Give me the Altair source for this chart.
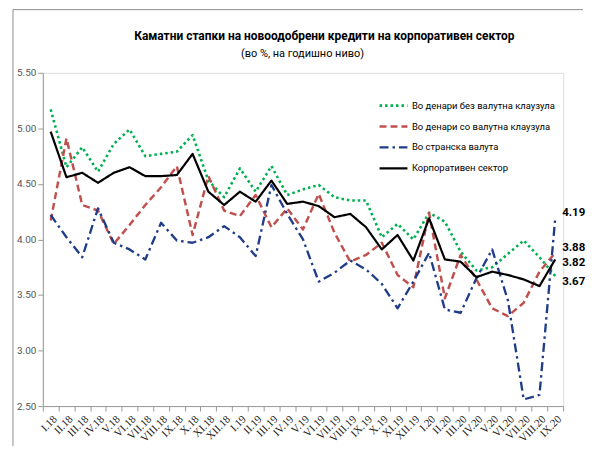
import altair as alt
import pandas as pd

months = ["I.18","II.18","III.18","IV.18","V.18","VI.18","VII.18","VIII.18","IX.18","X.18","XI.18","XII.18",
          "I.19","II.19","III.19","IV.19","V.19","VI.19","VII.19","VIII.19","IX.19","X.19","XI.19","XII.19",
          "I.20","II.20","III.20","IV.20","V.20","VI.20","VII.20","VIII.20","IX.20"]

series_names = ["Во денари без валутна клаузула", "Во денари со валутна клаузула",
                "Во странска валута", "Корпоративен сектор"]

green = [5.17,4.65,4.83,4.61,4.86,4.99,4.75,4.77,4.79,4.94,4.53,4.38,4.64,4.43,4.66,4.40,4.45,4.49,4.38,4.35,4.35,4.02,4.14,4.00,4.24,4.16,3.89,3.72,3.75,3.87,3.99,3.84,3.67]
red = [4.17,4.91,4.31,4.26,3.96,4.13,4.31,4.47,4.66,4.04,4.57,4.26,4.21,4.40,4.11,4.28,4.09,4.41,4.06,3.80,3.86,3.97,3.68,3.57,4.24,3.47,3.86,3.64,3.38,3.31,3.43,3.71,3.88]
blue = [4.22,4.02,3.84,4.28,3.97,3.91,3.82,4.15,3.99,3.97,4.02,4.12,4.02,3.85,4.49,4.23,4.00,3.62,3.70,3.81,3.73,3.60,3.38,3.62,3.88,3.37,3.34,3.65,3.91,3.45,2.56,2.60,4.19]
black = [4.97,4.56,4.60,4.51,4.60,4.65,4.57,4.57,4.58,4.77,4.43,4.31,4.43,4.34,4.53,4.32,4.34,4.30,4.20,4.23,4.11,3.91,4.04,3.81,4.19,3.82,3.80,3.66,3.71,3.68,3.64,3.58,3.82]

title_text = "Каматни стапки на новоодобрени кредити на корпоративен сектор"
subtitle_text = "(во %, на годишно ниво)"

colors = ["#00B050", "#C0504D", "#1F3C88", "#000000"]
dashes = [[2.5, 3], [7, 4], [9, 4, 2.5, 4], [1, 0]]
widths = [2.6, 2.2, 2.6, 3.6]

# end labels: value shown, vertical nudge
end_values = [4.19, 3.88, 3.82, 3.67]
end_dy = [-5, -5, 4, 6]

rows = []
for name, vals in zip(series_names, [green, red, blue, black]):
    for m, v in zip(months, vals):
        rows.append({"month": m, "value": v, "series": name})
df = pd.DataFrame(rows)

lab = pd.DataFrame({"month": [months[-1]] * 4, "value": end_values,
                    "text": [f"{v:.2f}" for v in end_values], "dy": end_dy})

font = "Roboto"

x_enc = alt.X("month:N", sort=months, title=None,
              scale=alt.Scale(paddingInner=0, paddingOuter=0),
              axis=alt.Axis(labelAngle=-45, labelFont="Liberation Serif", labelFontSize=11,
                            labelColor="#222", domainColor="#999", tickColor="#999",
                            tickBand="extent", tickSize=5, labelPadding=2, grid=False))
y_enc = alt.Y("value:Q", title=None,
              scale=alt.Scale(domain=[2.5, 5.5], nice=False, zero=False),
              axis=alt.Axis(values=[2.5, 3.0, 3.5, 4.0, 4.5, 5.0, 5.5], format=".2f",
                            labelFont=font, labelFontSize=10, labelColor="#555",
                            domainColor="#999", tickColor="#999", tickSize=5, grid=False))

leg = alt.Legend(title=None, orient="none", legendX=337, legendY=26,
                 symbolType="stroke", symbolSize=784, clipHeight=14,
                 labelFont=font, labelFontSize=9.5, labelColor="#000", labelLimit=0,
                 rowPadding=7, labelOffset=3)

color_enc = alt.Color("series:N", sort=series_names,
                      scale=alt.Scale(domain=series_names, range=colors), legend=leg)
dash_enc = alt.StrokeDash("series:N", sort=series_names,
                          scale=alt.Scale(domain=series_names, range=dashes), legend=leg)
width_enc = alt.StrokeWidth("series:N", sort=series_names,
                            scale=alt.Scale(domain=series_names, range=widths), legend=leg)

layers = []
for name in series_names:
    layers.append(
        alt.Chart(df).transform_filter(alt.datum.series == name)
        .mark_line(strokeJoin="round")
        .encode(x=x_enc, y=y_enc, color=color_enc, strokeDash=dash_enc, strokeWidth=width_enc)
    )

labels = []
for i in range(len(end_values)):
    labels.append(
        alt.Chart(lab.iloc[[i]]).mark_text(align="left", baseline="middle", dx=7, dy=end_dy[i],
                                           font=font, fontSize=11.5, fontWeight="bold", color="#000")
        .encode(x=alt.X("month:N", sort=months), y=alt.Y("value:Q"), text="text:N")
    )

one = pd.DataFrame({"a": [0]})

title_mark = alt.Chart(one).mark_text(
    font=font, fontSize=12, fontWeight="bold", color="#000", baseline="middle", text=title_text
).encode(x=alt.value(283), y=alt.value(-37))

subtitle_mark = alt.Chart(one).mark_text(
    font=font, fontSize=11, color="#000", baseline="middle", text=subtitle_text
).encode(x=alt.value(261), y=alt.value(-19))

# chart-area border (top and left edges)
border_top = alt.Chart(one).mark_rule(color="#8c8c8c", strokeWidth=1).encode(
    x=alt.value(-30), x2=alt.value(543), y=alt.value(-63.5))
border_left = alt.Chart(one).mark_rule(color="#8c8c8c", strokeWidth=1).encode(
    x=alt.value(-30), y=alt.value(-63.5), y2=alt.value(375))

chart = alt.layer(border_top, border_left, *layers, *labels, title_mark, subtitle_mark).properties(
    width=523, height=335,
    padding={"left": 4, "top": 0, "right": 0, "bottom": 0},
).configure_view(stroke=None).configure(background="white")

chart.save("out.html", embed_options={"renderer": "svg", "actions": False})
